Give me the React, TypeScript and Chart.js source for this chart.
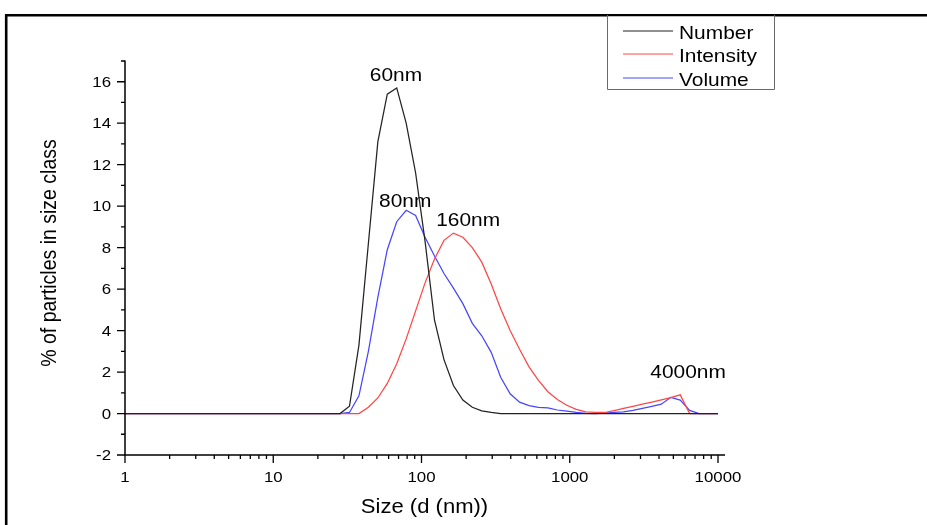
import React, { useEffect, useRef } from "react";
import { Chart, registerables } from "chart.js";

Chart.register(...registerables);

// Size classes (d, nm) – log-spaced bins
const SIZES = [
  0.9649, 1.117, 1.294, 1.499, 1.736, 2.01, 2.328, 2.696, 3.122, 3.615,
  4.187, 4.849, 5.615, 6.503, 7.531, 8.721, 10.1, 11.7, 13.54, 15.69,
  18.17, 21.04, 24.36, 28.21, 32.67, 37.84, 43.82, 50.75, 58.77, 68.06,
  78.82, 91.28, 105.7, 122.4, 141.8, 164.2, 190.1, 220.2, 255.0, 295.3,
  342.0, 396.1, 458.7, 531.2, 615.1, 712.4, 825.0, 955.4, 1106, 1281,
  1484, 1718, 1990, 2305, 2669, 3091, 3580, 4145, 4801, 5560,
  6439, 7456, 8635, 10000,
];

const NUMBER = [
  0, 0, 0, 0, 0, 0, 0, 0, 0, 0,
  0, 0, 0, 0, 0, 0, 0, 0, 0, 0,
  0, 0, 0, 0, 0.35, 3.3, 8.2, 13.1, 15.4, 15.7,
  14.0, 11.6, 8.3, 4.5, 2.6, 1.35, 0.65, 0.3, 0.13, 0.05,
  0, 0, 0, 0, 0, 0, 0, 0, 0, 0,
  0, 0, 0, 0, 0, 0, 0, 0, 0, 0,
  0, 0, 0, 0,
];

const INTENSITY = [
  0, 0, 0, 0, 0, 0, 0, 0, 0, 0,
  0, 0, 0, 0, 0, 0, 0, 0, 0, 0,
  0, 0, 0, 0, 0, 0, 0.3, 0.75, 1.45, 2.4,
  3.6, 4.95, 6.3, 7.45, 8.35, 8.7, 8.5, 8.0, 7.3, 6.25,
  5.05, 4.0, 3.1, 2.25, 1.6, 1.05, 0.68, 0.4, 0.2, 0.08,
  0.05, 0.05, 0.14, 0.25, 0.35, 0.45, 0.55, 0.66, 0.77, 0.9,
  0, 0, 0, 0,
];

const VOLUME = [
  0, 0, 0, 0, 0, 0, 0, 0, 0, 0,
  0, 0, 0, 0, 0, 0, 0, 0, 0, 0,
  0, 0, 0, 0, 0.05, 0.85, 3.0, 5.6, 7.9, 9.25,
  9.8, 9.55, 8.5, 7.6, 6.75, 6.05, 5.3, 4.35, 3.75, 2.95,
  1.75, 0.95, 0.55, 0.38, 0.3, 0.27, 0.17, 0.12, 0.05, 0.01,
  0, 0.02, 0.05, 0.08, 0.15, 0.25, 0.35, 0.45, 0.78, 0.65,
  0.15, 0, 0, 0,
];

const SERIES_NAMES = ["Number", "Intensity", "Volume"];
const SERIES_COLORS = ["rgb(35,35,35)", "rgb(255,70,70)", "rgb(70,70,255)"];

const X_MAJOR = [1, 10, 100, 1000, 10000];
const X_TICK_LABELS = ["1", "10", "100", "1000", "10000"];
const X_MINOR_STEPS = [2, 3, 4, 5, 6, 7, 8, 9];

const Y_MIN = -2;
const Y_MAX = 17;
const Y_MAJOR = [-2, 0, 2, 4, 6, 8, 10, 12, 14, 16];
const Y_TICK_LABELS = ["-2", "0", "2", "4", "6", "8", "10", "12", "14", "16"];
const Y_MINOR = [-1, 1, 3, 5, 7, 9, 11, 13, 15, 17];

const PEAK_LABELS = ["60nm", "80nm", "160nm", "4000nm"];

const X_TITLE = "Size (d (nm))";
const Y_TITLE = "% of particles in size class";

const FONT = '"Liberation Sans", Arial, Helvetica, sans-serif';

function drawText(
  ctx: CanvasRenderingContext2D,
  s: string,
  x: number,
  y: number,
  size: number,
  align: "left" | "center" | "right",
  sx: number
) {
  ctx.save();
  ctx.font = `${size}px ${FONT}`;
  ctx.textBaseline = "alphabetic";
  ctx.textAlign = "left";
  const w = ctx.measureText(s).width * sx;
  const left = align === "center" ? x - w / 2 : align === "right" ? x - w : x;
  ctx.translate(left, y);
  ctx.scale(sx, 1);
  ctx.fillStyle = "#000";
  ctx.fillText(s, 0, 0);
  ctx.restore();
}

const decorPlugin = {
  id: "decor",
  afterDraw(chart: any) {
    const ctx: CanvasRenderingContext2D = chart.ctx;
    const xs = chart.scales.x;
    const ys = chart.scales.y;
    const ca = chart.chartArea;

    ctx.save();
    // outer frame
    ctx.strokeStyle = "#000";
    ctx.lineWidth = 2.6;
    ctx.beginPath();
    ctx.moveTo(5, 15.2);
    ctx.lineTo(927, 15.2);
    ctx.moveTo(6.2, 14);
    ctx.lineTo(6.2, 525);
    ctx.stroke();

    // axes lines
    ctx.lineWidth = 1.5;
    ctx.beginPath();
    ctx.moveTo(ca.left, ca.top - 0.5);
    ctx.lineTo(ca.left, ca.bottom);
    ctx.lineTo(ca.right + 7, ca.bottom);
    ctx.stroke();

    // tick marks
    ctx.lineWidth = 1.3;
    ctx.beginPath();
    for (const t of xs.ticks) {
      const px = xs.getPixelForValue(t.value);
      const len = t.major ? 8 : 4;
      ctx.moveTo(px, ca.bottom);
      ctx.lineTo(px, ca.bottom + len);
    }
    for (const t of ys.ticks) {
      const py = ys.getPixelForValue(t.value);
      const len = t.major ? 8 : 4;
      ctx.moveTo(ca.left, py);
      ctx.lineTo(ca.left - len, py);
    }
    ctx.stroke();
    ctx.restore();

    // tick labels
    X_MAJOR.forEach((v, i) => {
      drawText(ctx, X_TICK_LABELS[i], xs.getPixelForValue(v), ca.bottom + 26.5, 14.5, "center", 1.16);
    });
    Y_MAJOR.forEach((v, i) => {
      drawText(ctx, Y_TICK_LABELS[i], ca.left - 14, ys.getPixelForValue(v) + 5, 14.5, "right", 1.16);
    });

    // axis titles
    drawText(ctx, X_TITLE, (ca.left + ca.right) / 2 + 3, 513, 19.5, "center", 1.13);
    ctx.save();
    ctx.font = `19.5px ${FONT}`;
    ctx.fillStyle = "#000";
    ctx.translate(56, 253);
    ctx.rotate(-Math.PI / 2);
    ctx.scale(1, 1.15);
    ctx.textAlign = "center";
    ctx.textBaseline = "alphabetic";
    ctx.fillText(Y_TITLE, 0, 0);
    ctx.restore();

    // peak annotations (anchored in data units)
    const anchors = [
      { x: 67.2, y: 16.04 },
      { x: 77.6, y: 9.98 },
      { x: 206.5, y: 9.02 },
      { x: 6286, y: 1.71 },
    ];
    PEAK_LABELS.forEach((s, i) => {
      drawText(ctx, s, xs.getPixelForValue(anchors[i].x), ys.getPixelForValue(anchors[i].y), 18.5, "center", 1.13);
    });

    // legend box
    ctx.save();
    ctx.fillStyle = "#fff";
    ctx.fillRect(607.5, 16.5, 167, 73);
    ctx.strokeStyle = "#6a6a6a";
    ctx.lineWidth = 1;
    ctx.beginPath();
    ctx.moveTo(607.5, 15);
    ctx.lineTo(607.5, 89.5);
    ctx.lineTo(774.5, 89.5);
    ctx.lineTo(774.5, 15);
    ctx.stroke();
    const ly = [31, 54, 78];
    SERIES_NAMES.forEach((name, i) => {
      ctx.strokeStyle = SERIES_COLORS[i];
      ctx.lineWidth = 1;
      ctx.beginPath();
      ctx.moveTo(623, ly[i]);
      ctx.lineTo(673, ly[i]);
      ctx.stroke();
      drawText(ctx, name, 679, ly[i] + 7.5, 18.5, "left", 1.13);
    });
    ctx.restore();
  },
};

export default function App() {
  const ref = useRef<HTMLCanvasElement | null>(null);

  useEffect(() => {
    document.body.style.margin = "0";
    const canvas = ref.current;
    if (!canvas) return;

    const seriesValues = [NUMBER, INTENSITY, VOLUME];
    const datasets = SERIES_NAMES.map((name, k) => ({
      label: name,
      data: SIZES.map((x, i) => ({ x, y: seriesValues[k][i] })),
      borderColor: SERIES_COLORS[k],
      backgroundColor: SERIES_COLORS[k],
      borderWidth: 1.25,
      pointRadius: 0,
      showLine: true,
      tension: 0,
      fill: false,
    }));

    const xTicks: { value: number; major: boolean }[] = [];
    X_MAJOR.forEach((m, i) => {
      xTicks.push({ value: m, major: true });
      if (i < X_MAJOR.length - 1) {
        X_MINOR_STEPS.forEach((s) => xTicks.push({ value: m * s, major: false }));
      }
    });
    const yTicks = [
      ...Y_MAJOR.map((v) => ({ value: v, major: true })),
      ...Y_MINOR.map((v) => ({ value: v, major: false })),
    ].sort((a, b) => a.value - b.value);

    const chart = new Chart(canvas, {
      type: "scatter",
      data: { datasets },
      options: {
        responsive: false,
        devicePixelRatio: 1,
        animation: false,
        layout: { padding: { left: 0, top: 61, right: 209, bottom: 0 } },
        plugins: {
          legend: { display: false },
          tooltip: { enabled: false },
          title: { display: false },
        },
        scales: {
          x: {
            type: "logarithmic",
            position: "bottom",
            min: 1,
            max: 10000,
            grid: { display: false },
            border: { display: false },
            ticks: { display: false },
            afterBuildTicks: (s: any) => {
              s.ticks = xTicks.map((t) => ({ ...t }));
            },
            afterFit: (s: any) => {
              s.height = 70;
            },
          },
          y: {
            type: "linear",
            min: Y_MIN,
            max: Y_MAX,
            grid: { display: false },
            border: { display: false },
            ticks: { display: false, stepSize: 1 },
            afterBuildTicks: (s: any) => {
              s.ticks = yTicks.map((t) => ({ ...t }));
            },
            afterFit: (s: any) => {
              s.width = 125;
            },
          },
        },
      } as any,
      plugins: [decorPlugin],
    });

    return () => chart.destroy();
  }, []);

  return (
    <div style={{ position: "absolute", left: 0, top: 0, width: 927, height: 525, background: "#fff" }}>
      <canvas ref={ref} width={927} height={525} style={{ display: "block" }} />
    </div>
  );
}
